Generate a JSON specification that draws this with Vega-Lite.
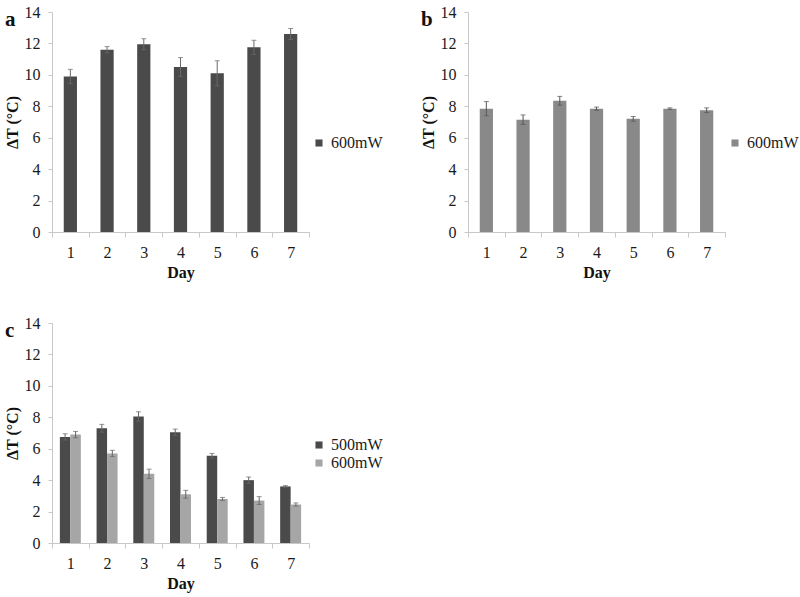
{
  "$schema": "https://vega.github.io/schema/vega-lite/v6.json",
  "background": "white",
  "padding": {"left": 4, "top": 4, "right": 5, "bottom": 5},
  "autosize": {"type": "pad"},
  "datasets": {
    "a": [
      {"day": 1, "series": "600mW", "dt": 9.9, "err": 0.45},
      {"day": 2, "series": "600mW", "dt": 11.6, "err": 0.2},
      {"day": 3, "series": "600mW", "dt": 11.95, "err": 0.35},
      {"day": 4, "series": "600mW", "dt": 10.5, "err": 0.6},
      {"day": 5, "series": "600mW", "dt": 10.1, "err": 0.8},
      {"day": 6, "series": "600mW", "dt": 11.75, "err": 0.45},
      {"day": 7, "series": "600mW", "dt": 12.6, "err": 0.35}
    ],
    "b": [
      {"day": 1, "series": "600mW", "dt": 7.85, "err": 0.45},
      {"day": 2, "series": "600mW", "dt": 7.15, "err": 0.3},
      {"day": 3, "series": "600mW", "dt": 8.35, "err": 0.28},
      {"day": 4, "series": "600mW", "dt": 7.85, "err": 0.1},
      {"day": 5, "series": "600mW", "dt": 7.2, "err": 0.15},
      {"day": 6, "series": "600mW", "dt": 7.85, "err": 0.05},
      {"day": 7, "series": "600mW", "dt": 7.75, "err": 0.15}
    ],
    "c": [
      {"day": 1, "series": "500mW", "dt": 6.75, "err": 0.2},
      {"day": 2, "series": "500mW", "dt": 7.3, "err": 0.25},
      {"day": 3, "series": "500mW", "dt": 8.05, "err": 0.3},
      {"day": 4, "series": "500mW", "dt": 7.05, "err": 0.2},
      {"day": 5, "series": "500mW", "dt": 5.55, "err": 0.15},
      {"day": 6, "series": "500mW", "dt": 4.0, "err": 0.2},
      {"day": 7, "series": "500mW", "dt": 3.6, "err": 0.05},
      {"day": 1, "series": "600mW", "dt": 6.9, "err": 0.2},
      {"day": 2, "series": "600mW", "dt": 5.7, "err": 0.2},
      {"day": 3, "series": "600mW", "dt": 4.4, "err": 0.3},
      {"day": 4, "series": "600mW", "dt": 3.1, "err": 0.25},
      {"day": 5, "series": "600mW", "dt": 2.8, "err": 0.1},
      {"day": 6, "series": "600mW", "dt": 2.7, "err": 0.25},
      {"day": 7, "series": "600mW", "dt": 2.45, "err": 0.1}
    ]
  },
  "config": {
    "view": {"stroke": null},
    "font": "Liberation Serif",
    "axis": {
      "labelFont": "Liberation Serif",
      "labelFontSize": 16,
      "labelColor": "#1a1a1a",
      "titleFont": "Liberation Serif",
      "titleFontSize": 16,
      "titleFontWeight": "bold",
      "titleColor": "#111",
      "domainColor": "#c8c8c8",
      "tickColor": "#c8c8c8",
      "grid": false
    },
    "axisX": {"labelAngle": 0, "tickBand": "extent", "tickSize": 5, "labelPadding": 7, "titlePadding": 4},
    "axisY": {"tickSize": 4, "labelPadding": 8, "titlePadding": 4},
    "legend": {
      "labelFont": "Liberation Serif",
      "labelFontSize": 16,
      "labelColor": "#1a1a1a",
      "symbolType": "square",
      "symbolSize": 50,
      "symbolStrokeWidth": 0,
      "labelOffset": 4,
      "rowPadding": 2,
      "orient": "none",
      "title": null
    },
    "title": {"font": "Liberation Serif", "fontSize": 21, "fontWeight": "bold", "color": "#111", "anchor": "start", "frame": "group"}
  },
  "bounds": "flush",
  "columns": 2,
  "spacing": {"row": 91, "column": 159},
  "concat": [
    {
      "width": 257,
      "height": 220,
      "title": {"text": "a", "dx": -47, "dy": 30},
      "data": {"name": "a"},
      "encoding": {
        "x": {"field": "day", "type": "ordinal", "title": "Day", "scale": {"paddingInner": 0, "paddingOuter": 0}},
        "y": {"field": "dt", "type": "quantitative", "title": "ΔT (°C)", "scale": {"domain": [0, 14]}, "axis": {"values": [0, 2, 4, 6, 8, 10, 12, 14]}}
      },
      "layer": [
        {
          "mark": {"type": "bar", "width": {"band": 0.36}},
          "encoding": {
            "color": {"field": "series", "type": "nominal", "scale": {"range": ["#4a4a4a"]}, "legend": {"legendX": 259, "legendY": 123}}
          }
        },
        {
          "mark": {"type": "errorbar", "ticks": {"size": 5, "color": "#6a6a6a"}, "rule": {"color": "#6a6a6a"}},
          "encoding": {"yError": {"field": "err"}}
        }
      ]
    },
    {
      "width": 257,
      "height": 220,
      "title": {"text": "b", "dx": -47, "dy": 30},
      "data": {"name": "b"},
      "encoding": {
        "x": {"field": "day", "type": "ordinal", "title": "Day", "scale": {"paddingInner": 0, "paddingOuter": 0}},
        "y": {"field": "dt", "type": "quantitative", "title": "ΔT (°C)", "scale": {"domain": [0, 14]}, "axis": {"values": [0, 2, 4, 6, 8, 10, 12, 14]}}
      },
      "layer": [
        {
          "mark": {"type": "bar", "width": {"band": 0.36}},
          "encoding": {
            "color": {"field": "series", "type": "nominal", "scale": {"range": ["#898989"]}, "legend": {"legendX": 259, "legendY": 123}}
          }
        },
        {
          "mark": {"type": "errorbar", "ticks": {"size": 5, "color": "#555"}, "rule": {"color": "#555"}},
          "encoding": {"yError": {"field": "err"}}
        }
      ]
    },
    {
      "width": 257,
      "height": 220,
      "title": {"text": "c", "dx": -47, "dy": 30},
      "data": {"name": "c"},
      "encoding": {
        "x": {"field": "day", "type": "ordinal", "title": "Day", "scale": {"paddingInner": 0, "paddingOuter": 0}},
        "xOffset": {"field": "series", "type": "nominal", "scale": {"paddingInner": 0, "paddingOuter": 0.75}},
        "y": {"field": "dt", "type": "quantitative", "title": "ΔT (°C)", "scale": {"domain": [0, 14]}, "axis": {"values": [0, 2, 4, 6, 8, 10, 12, 14]}}
      },
      "layer": [
        {
          "mark": {"type": "bar"},
          "encoding": {
            "color": {"field": "series", "type": "nominal", "scale": {"range": ["#4a4a4a", "#a6a6a6"]}, "legend": {"legendX": 259, "legendY": 114}}
          }
        },
        {
          "mark": {"type": "errorbar", "ticks": {"size": 5, "color": "#666"}, "rule": {"color": "#666"}},
          "encoding": {"yError": {"field": "err"}}
        }
      ]
    }
  ],
  "resolve": {"scale": {"color": "independent"}}
}
